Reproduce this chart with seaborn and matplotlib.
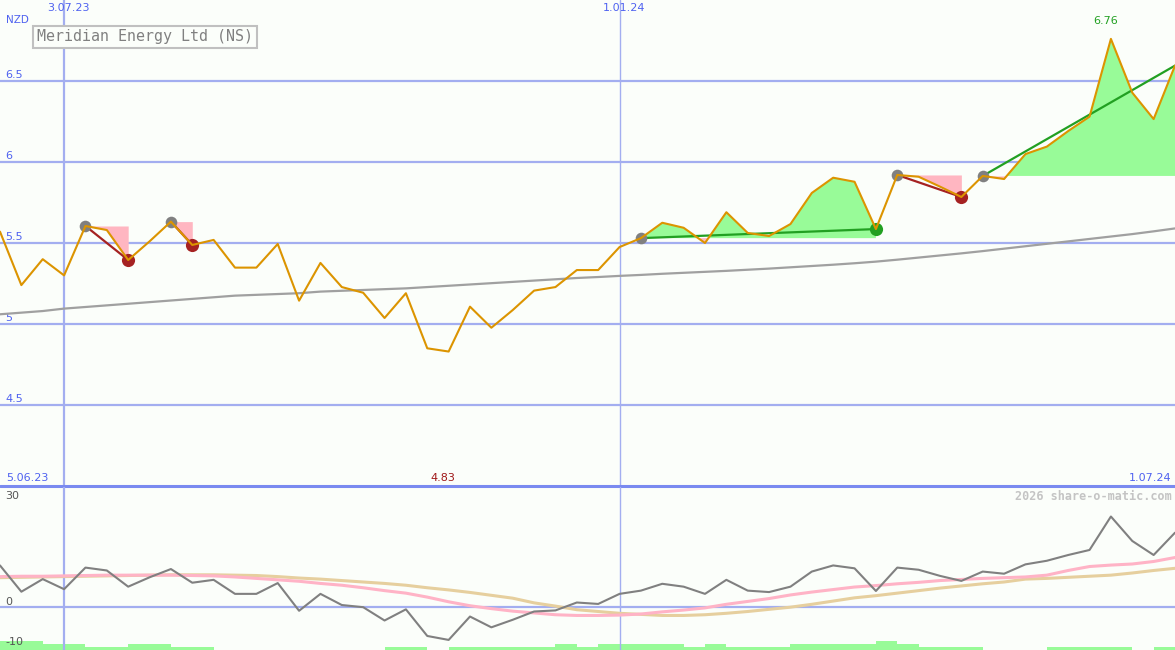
import matplotlib
matplotlib.use('Agg')
import matplotlib.pyplot as plt
import seaborn as sns

# ── Datos (semanal, índice 0 = 12.06.23, índice 55 = 1.07.24) ─────────
semanas = list(range(56))

precio = [5.57, 5.24, 5.40, 5.30, 5.605, 5.58, 5.395, 5.51, 5.632, 5.488,
          5.519, 5.348, 5.348, 5.494, 5.144, 5.377, 5.228, 5.193, 5.037, 5.19,
          4.85, 4.83, 5.107, 4.977, 5.086, 5.206, 5.228, 5.333, 5.333, 5.475,
          5.53, 5.625, 5.594, 5.50, 5.69, 5.562, 5.543, 5.617, 5.809, 5.903,
          5.878, 5.586, 5.92, 5.909, 5.848, 5.784, 5.914, 5.895, 6.049, 6.095,
          6.191, 6.28, 6.76, 6.428, 6.265, 6.595]

media_larga = [5.06, 5.07, 5.08, 5.095, 5.105, 5.115, 5.125, 5.135, 5.145, 5.155,
               5.165, 5.175, 5.18, 5.185, 5.19, 5.20, 5.205, 5.21, 5.215, 5.22,
               5.228, 5.236, 5.244, 5.252, 5.26, 5.268, 5.276, 5.284, 5.29, 5.297,
               5.303, 5.31, 5.316, 5.322, 5.328, 5.335, 5.342, 5.35, 5.358, 5.366,
               5.375, 5.385, 5.397, 5.41, 5.423, 5.436, 5.45, 5.465, 5.48, 5.495,
               5.51, 5.525, 5.54, 5.555, 5.572, 5.59]

oscilador = [11.6, 4.3, 7.8, 5.0, 11.0, 10.2, 5.7, 8.3, 10.6, 6.8,
             7.6, 3.7, 3.7, 6.7, -1.0, 3.7, 0.6, 0.0, -3.7, -0.6,
             -8.0, -9.1, -2.6, -5.6, -3.5, -1.2, -0.9, 1.3, 0.9, 3.7,
             4.6, 6.5, 5.7, 3.7, 7.6, 4.6, 4.2, 5.7, 9.9, 11.6,
             10.8, 4.5, 11.0, 10.4, 8.7, 7.3, 9.9, 9.3, 11.9, 12.9,
             14.5, 15.9, 25.2, 18.4, 14.5, 20.7]

senal_rapida = [8.5, 8.6, 8.6, 8.7, 8.8, 8.9, 8.9, 8.9, 8.9, 8.8,
                8.7, 8.4, 8.0, 7.6, 7.2, 6.6, 6.1, 5.4, 4.6, 3.9,
                2.8, 1.5, 0.4, -0.4, -1.1, -1.6, -2.1, -2.3, -2.3, -2.2,
                -1.9, -1.3, -0.8, -0.2, 0.8, 1.6, 2.4, 3.4, 4.2, 4.9,
                5.6, 6.0, 6.5, 6.9, 7.4, 7.7, 8.0, 8.2, 8.4, 8.9,
                10.2, 11.3, 11.7, 12.0, 12.7, 13.8]

senal_lenta = [8.2, 8.3, 8.4, 8.5, 8.6, 8.7, 8.8, 8.9, 9.0, 9.0,
               9.0, 8.9, 8.8, 8.5, 8.1, 7.8, 7.4, 7.0, 6.6, 6.1,
               5.4, 4.8, 4.1, 3.3, 2.5, 1.2, 0.3, -0.7, -1.2, -1.7,
               -2.0, -2.3, -2.3, -2.1, -1.7, -1.2, -0.6, 0.0, 0.8, 1.7,
               2.6, 3.2, 3.9, 4.6, 5.3, 5.9, 6.5, 7.0, 7.8, 8.0,
               8.3, 8.6, 8.9, 9.5, 10.2, 10.8]

volumen = [3, 3, 2, 2, 1, 1, 2, 2, 1, 1,
           0, 0, 0, 0, 0, 0, 0, 0, 1, 1,
           0, 1, 1, 1, 1, 1, 2, 1, 2, 2,
           2, 2, 1, 2, 1, 1, 1, 2, 2, 2,
           2, 3, 2, 1, 1, 1, 0, 0, 0, 1,
           1, 1, 1, 0, 1, 0]

# (inicio, fin, tipo, marcar_fin)
patrones = [(4, 6, 'baja', True), (8, 9, 'baja', True), (30, 41, 'alza', True),
            (42, 45, 'baja', True), (46, 55, 'alza', False)]

niveles_precio = [6.5, 6.0, 5.5, 5.0, 4.5]
etiquetas_precio = ['6.5', '6', '5.5', '5', '4.5']
fechas_verticales = [(3, '3.07.23'), (29, '1.01.24')]
niveles_osc = [30, 0, -10]
etiquetas_osc = ['30', '0', '-10']

# ── Estilo ──────────────────────────────────────────────────
FONDO = '#fbfefa'
AZUL_GRID = '#a3aef0'
AZUL_SEP = '#7a8af0'
AZUL_TXT = '#4f62f0'
NARANJA = '#dc9400'
VERDE = '#98fb98'
ROSA = '#ffb6c1'
VERDE_OSC = '#22a022'
ROJO = '#a52222'

sns.set_theme(style='white')
plt.rcParams['font.family'] = ['DejaVu Sans']

fig = plt.figure(figsize=(11.75, 6.5), dpi=100, facecolor=FONDO)
ax = fig.add_axes([0, 164 / 650, 1, 486 / 650])
ax2 = fig.add_axes([0, 0, 1, 163 / 650])
for eje in (ax, ax2):
    eje.set_facecolor(FONDO)
    for s in eje.spines.values():
        s.set_visible(False)
    eje.set_xticks([])
    eje.set_yticks([])
    eje.set_xlim(0, 55)

ax.set_ylim(4.0, 7.0)
ax2.set_ylim(-11.9, 33.4)

# ── Panel superior ──────────────────────────────────────────
for nivel, etq in zip(niveles_precio, etiquetas_precio):
    ax.axhline(nivel, color=AZUL_GRID, lw=1.6, zorder=1)
    ax.annotate(etq, (0, nivel), xycoords=('axes fraction', 'data'),
                xytext=(4, 4), textcoords='offset points',
                color=AZUL_TXT, fontsize=8, va='center', ha='left')
for i, (semana, etq) in enumerate(fechas_verticales):
    ax.axvline(semana, color=AZUL_GRID, lw=1.6 if i == 0 else 1.0, zorder=1)
    ax2.axvline(semana, color=AZUL_GRID, lw=1.6 if i == 0 else 1.0, zorder=1)
    ax.annotate(etq, (semana, 1), xycoords=('data', 'axes fraction'),
                xytext=(3, -6), textcoords='offset points',
                color=AZUL_TXT, fontsize=8, va='center', ha='center')

ax.axhline(4.0, color=AZUL_SEP, lw=2.2, zorder=5, clip_on=False)

# rellenos de patrones
for ini, fin, tipo, _ in patrones:
    xs = semanas[ini:fin + 1]
    ys = precio[ini:fin + 1]
    nivel = precio[ini]
    ax.fill_between(xs, nivel, ys, where=[y <= nivel for y in ys],
                    interpolate=True, color=ROSA, lw=0, zorder=2)
    if tipo == 'alza':
        ax.fill_between(xs, nivel, ys, where=[y >= nivel for y in ys],
                        interpolate=True, color=VERDE, lw=0, zorder=2)

sns.lineplot(x=semanas, y=media_larga, ax=ax, color='#a0a0a0', lw=1.6, zorder=3)

for ini, fin, tipo, marcar in patrones:
    color = ROJO if tipo == 'baja' else VERDE_OSC
    sns.lineplot(x=[semanas[ini], semanas[fin]], y=[precio[ini], precio[fin]],
                 ax=ax, color=color, lw=1.6, zorder=4)
    ax.scatter(semanas[ini], precio[ini], s=70, color='#808080', zorder=4, lw=0)
    if marcar:
        ax.scatter(semanas[fin], precio[fin], s=90, color=color, zorder=4, lw=0)

sns.lineplot(x=semanas, y=precio, ax=ax, color=NARANJA, lw=1.5, zorder=6)

i_max = precio.index(max(precio))
i_min = precio.index(min(precio))
ax.annotate(f'{max(precio):.2f}', (i_max, 1), xycoords=('data', 'axes fraction'),
            xytext=(-4, -15), textcoords='offset points',
            color=VERDE_OSC, fontsize=8, ha='center', va='center')
ax.annotate(f'{min(precio):.2f}', (i_min, 0), xycoords=('data', 'axes fraction'),
            xytext=(-4, 6), textcoords='offset points',
            color='#a01818', fontsize=8, ha='center', va='center')
ax.text(0.005, 8 / 486, '5.06.23', transform=ax.transAxes, color=AZUL_TXT,
        fontsize=8, ha='left', va='center')
ax.text(0.997, 8 / 486, '1.07.24', transform=ax.transAxes, color=AZUL_TXT,
        fontsize=8, ha='right', va='center')
ax.text(0.005, 1 - 20 / 486, 'NZD', transform=ax.transAxes, color=AZUL_TXT,
        fontsize=7.5, ha='left', va='center')
ax.text(37 / 1175, 1 - 37 / 486, 'Meridian Energy Ltd (NS)', transform=ax.transAxes,
        family='DejaVu Sans Mono', fontsize=10.8, color='#808080',
        ha='left', va='center',
        bbox=dict(boxstyle='square,pad=0.25', fc=FONDO, ec='#c0c0c0', lw=1.5))

# ── Panel inferior ──────────────────────────────────────────
ax2v = ax2.twinx()
ax2v.set_ylim(0, 163 / 3)
ax2v.set_yticks([])
for s in ax2v.spines.values():
    s.set_visible(False)
ax2v.bar(semanas, volumen, width=1, align='edge', color=VERDE, lw=0, zorder=1)
ax2v.set_zorder(0)
ax2.set_zorder(1)
ax2.patch.set_visible(False)
ax2v.patch.set_facecolor(FONDO)

ax2.axhline(0, color=AZUL_GRID, lw=1.6, zorder=1)
for nivel, etq, dy in zip(niveles_osc, etiquetas_osc, [2, 3.5, 0.5]):
    ax2.annotate(etq, (0, nivel), xycoords=('axes fraction', 'data'),
                 xytext=(4, dy), textcoords='offset points',
                 color='#555555', fontsize=8, va='center', ha='left')

sns.lineplot(x=semanas, y=senal_lenta, ax=ax2, color='#e6cf9e', lw=2.2, zorder=2)
sns.lineplot(x=semanas, y=senal_rapida, ax=ax2, color='#ffb3c6', lw=2.2, zorder=3)
sns.lineplot(x=semanas, y=oscilador, ax=ax2, color='#808080', lw=1.5, zorder=4)
ax2.text(0.997, 1 - 9 / 163, '2026 share-o-matic.com', transform=ax2.transAxes,
         family='DejaVu Sans Mono', fontsize=8.5, weight='bold', color='#c4c4c4',
         ha='right', va='center')
for eje in (ax, ax2):
    eje.set_xlabel('')
    eje.set_ylabel('')

fig.savefig('out.png', dpi=100, facecolor=FONDO)
